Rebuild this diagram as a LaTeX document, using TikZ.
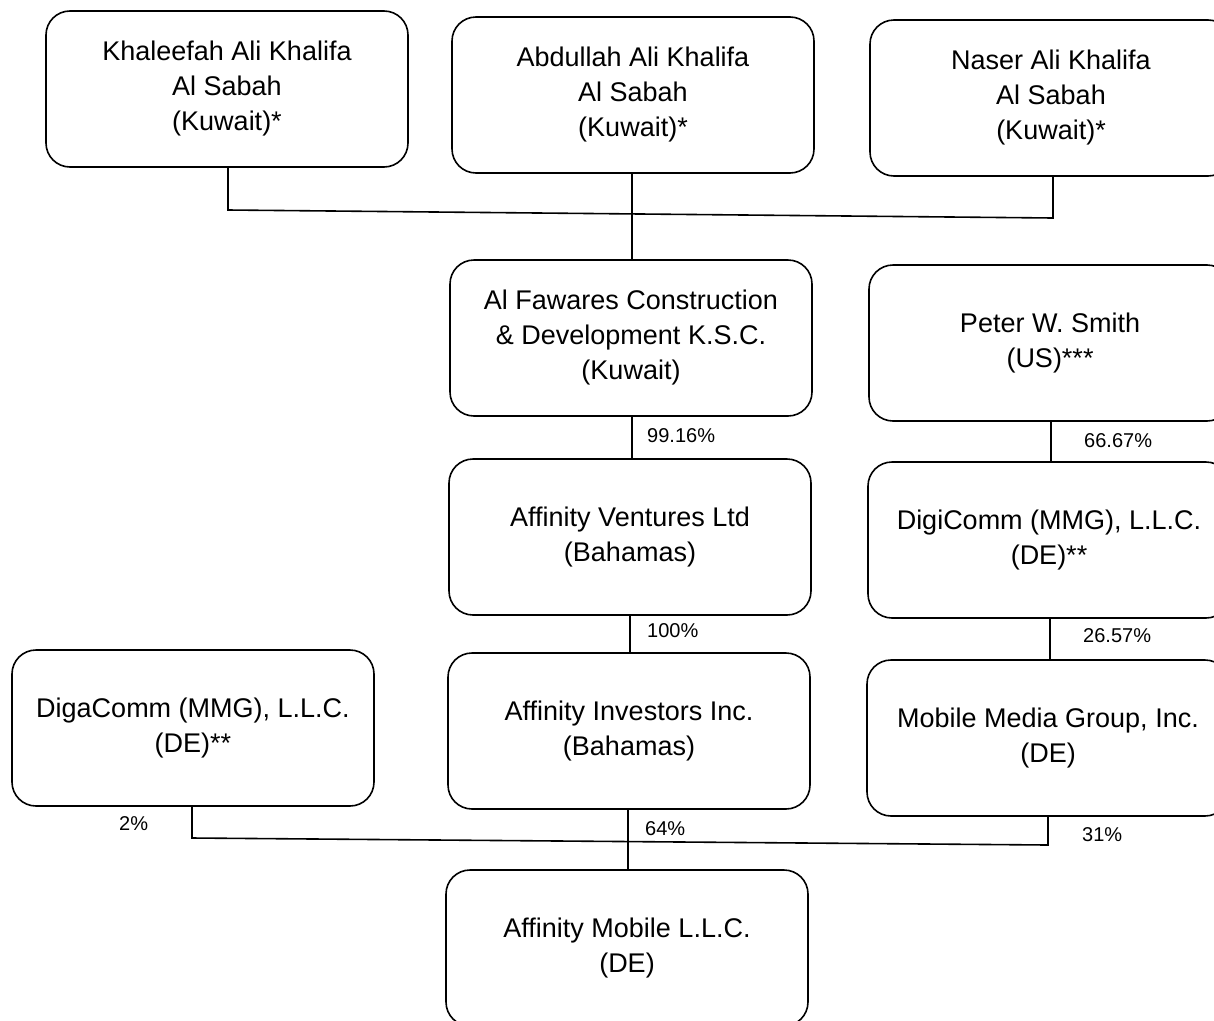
\documentclass[tikz,border=0pt]{standalone}
\usepackage{fontspec}
\setmainfont{Liberation Sans}
\begin{document}
\begin{tikzpicture}[x=1pt,y=-1pt,
  box/.style={draw,line width=1.6pt,rounded corners=24pt,minimum width=362pt,minimum height=156pt,align=center,font=\fontsize{27}{35}\selectfont,inner sep=0pt},
  pct/.style={anchor=west,font=\fontsize{20}{22}\selectfont,inner sep=0pt},
  conn/.style={line width=1.6pt}]
\useasboundingbox (0,0) rectangle (1214,1020);
\clip (0,0) rectangle (1214,1020);
\node[box] (k) at (227,89) {Khaleefah Ali Khalifa\\Al Sabah\\(Kuwait)*};
\node[box] (a) at (633,95) {Abdullah Ali Khalifa\\Al Sabah\\(Kuwait)*};
\node[box] (n) at (1051,98) {Naser Ali Khalifa\\Al Sabah\\(Kuwait)*};
\node[box] (f) at (631,338) {Al Fawares Construction\\\& Development K.S.C.\\(Kuwait)};
\node[box] (p) at (1050,343) {Peter W. Smith\\(US)***};
\node[box] (v) at (630,537) {Affinity Ventures Ltd\\(Bahamas)};
\node[box] (d) at (1049,540) {DigiComm (MMG), L.L.C.\\(DE)**};
\node[box] (g) at (193,728) {DigaComm (MMG), L.L.C.\\(DE)**};
\node[box] (i) at (629,731) {Affinity Investors Inc.\\(Bahamas)};
\node[box] (m) at (1048,738) {Mobile Media Group, Inc.\\(DE)};
\node[box] (am) at (627,948) {Affinity Mobile L.L.C.\\(DE)};
% top junction
\coordinate (j1) at (228,210);
\coordinate (j2) at (1053,218);
\draw[conn] (k.south -| j1) -- (j1) -- (j2) -- (n.south -| j2);
\draw[conn] (a.south -| 632,0) -- (f.north -| 632,0);
% vertical links
\draw[conn] (f.south -| 632,0) -- (v.north -| 632,0);
\draw[conn] (p.south -| 1051,0) -- (d.north -| 1051,0);
\draw[conn] (v.south -| 630,0) -- (i.north -| 630,0);
\draw[conn] (d.south -| 1050,0) -- (m.north -| 1050,0);
% bottom junction
\coordinate (b1) at (192,838);
\coordinate (b2) at (1048,845);
\draw[conn] (g.south -| b1) -- (b1) -- (b2) -- (m.south -| b2);
\draw[conn] (i.south -| 628,0) -- (am.north -| 628,0);
% labels
\node[pct] (l1) at (647,436) {99.16\%};
\node[pct] (l2) at (1084,441) {66.67\%};
\node[pct] (l3) at (647,631) {100\%};
\node[pct] (l4) at (1083,636) {26.57\%};
\node[pct] (l5) at (119,824) {2\%};
\node[pct] (l6) at (645,829) {64\%};
\node[pct] (l7) at (1082,835) {31\%};
\end{tikzpicture}
\end{document}
